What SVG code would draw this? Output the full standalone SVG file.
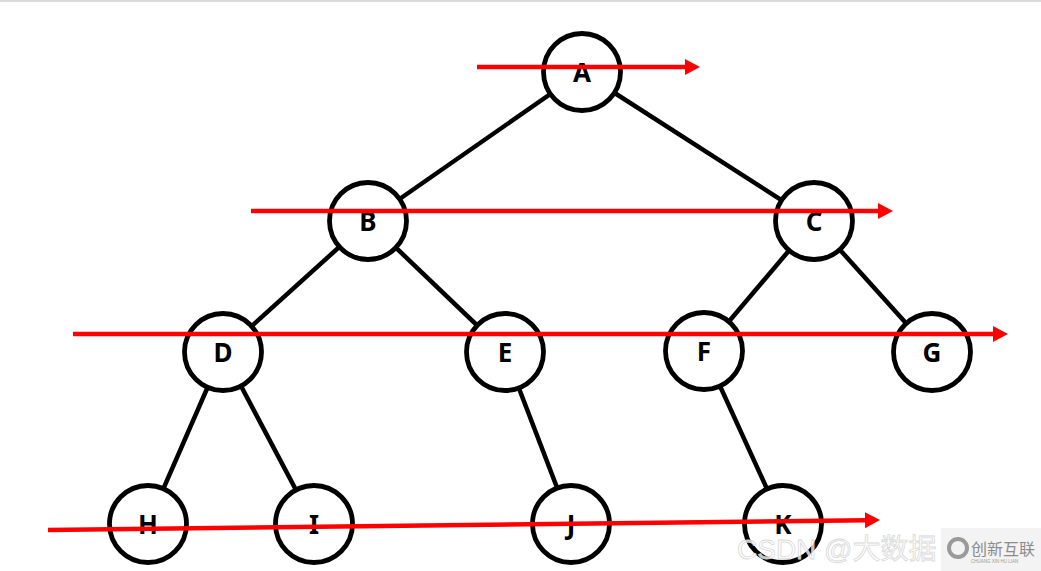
<svg xmlns="http://www.w3.org/2000/svg" width="1041" height="571" viewBox="0 0 1041 571">
<style>
.node circle{fill:#fff;stroke:#000;stroke-width:4.8}
.node text{font-family:"Noto Sans","Liberation Sans",sans-serif;font-weight:bold;font-size:26px;text-anchor:middle;fill:#000}
.edge{stroke:#000;stroke-width:4.5}
.scan{stroke:#f00;stroke-width:4.5;fill:none}
</style>
<defs>
<marker id="ah" markerUnits="userSpaceOnUse" markerWidth="16" markerHeight="18" refX="1" refY="8" orient="auto">
<path d="M0,0 L15,8 L0,16 z" fill="#f00"/>
</marker>
</defs>
<rect width="1041" height="571" fill="#fff"/>
<line x1="0" y1="1" x2="1041" y2="1" stroke="#cfcfcf" stroke-width="1.5"/>
<g id="edges">
<line class="edge" x1="582" y1="72" x2="368" y2="221"/>
<line class="edge" x1="582" y1="72" x2="814" y2="221"/>
<line class="edge" x1="368" y1="221" x2="223" y2="352"/>
<line class="edge" x1="368" y1="221" x2="505" y2="352"/>
<line class="edge" x1="814" y1="221" x2="704" y2="351"/>
<line class="edge" x1="814" y1="221" x2="932" y2="352"/>
<line class="edge" x1="223" y1="352" x2="148" y2="524"/>
<line class="edge" x1="223" y1="352" x2="314" y2="524"/>
<line class="edge" x1="505" y1="352" x2="571" y2="524"/>
<line class="edge" x1="704" y1="351" x2="783" y2="524"/>
</g>
<g id="A" class="node"><circle cx="582" cy="72" r="38.5"/><text x="582" y="82">A</text></g>
<g id="B" class="node"><circle cx="368" cy="221" r="38.5"/><text x="368" y="231">B</text></g>
<g id="C" class="node"><circle cx="814" cy="221" r="38.5"/><text x="814" y="231">C</text></g>
<g id="D" class="node"><circle cx="223" cy="352" r="38.5"/><text x="223" y="362">D</text></g>
<g id="E" class="node"><circle cx="505" cy="352" r="38.5"/><text x="505" y="362">E</text></g>
<g id="F" class="node"><circle cx="704" cy="351" r="38.5"/><text x="704" y="361">F</text></g>
<g id="G" class="node"><circle cx="932" cy="352" r="38.5"/><text x="932" y="362">G</text></g>
<g id="H" class="node"><circle cx="148" cy="524" r="38.5"/><text x="148" y="534">H</text></g>
<g id="I" class="node"><circle cx="314" cy="524" r="38.5"/><text x="314" y="534">I</text></g>
<g id="J" class="node"><circle cx="571" cy="524" r="38.5"/><text x="571" y="534">J</text></g>
<g id="K" class="node"><circle cx="783" cy="524" r="38.5"/><text x="783" y="534">K</text></g>
<g id="scanlines">
<line class="scan" x1="477" y1="67" x2="686" y2="67" marker-end="url(#ah)"/>
<line class="scan" x1="251" y1="211" x2="879" y2="211" marker-end="url(#ah)"/>
<line class="scan" x1="73" y1="334" x2="994" y2="334" marker-end="url(#ah)"/>
<line class="scan" x1="48" y1="530" x2="866" y2="520.2" marker-end="url(#ah)"/>
</g>
<g id="watermark">
<text x="737" y="559" font-family="'Liberation Sans','Noto Sans CJK SC',sans-serif" font-size="28" fill="#ffffff" fill-opacity="0.75" stroke="#d8d8d8" stroke-width="0.8">CSDN @大数据</text>
<rect x="941" y="528" width="100" height="43" fill="#f3f3f3"/>
<circle cx="958" cy="548" r="9" fill="none" stroke="#9a9a9a" stroke-width="4"/>
<text x="971" y="555" font-family="'Noto Sans CJK SC',sans-serif" font-size="16" fill="#8c8c8c">创新互联</text>
<text x="971" y="563" font-family="'Liberation Sans',sans-serif" font-size="4.5" fill="#999">CHUANG XIN HU LIAN</text>
</g>
</svg>
